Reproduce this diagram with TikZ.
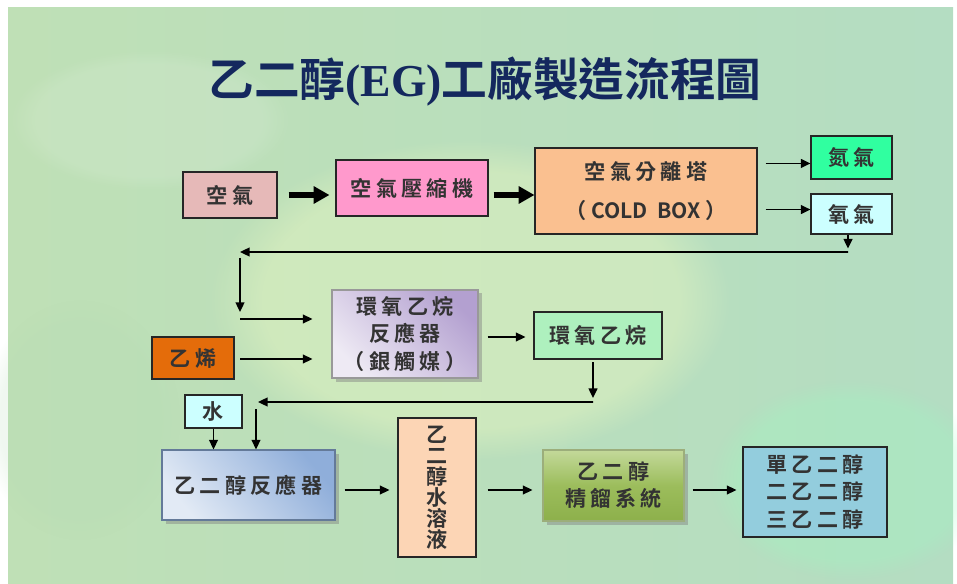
\documentclass[tikz,border=0pt]{standalone}
\usepackage{fontspec}
\usetikzlibrary{arrows.meta,calc,shadows,fadings}
\newfontfamily\cjk[LetterSpace=20]{Noto Sans CJK TC Bold}
\newfontfamily\cjkn{Noto Sans CJK TC Bold}
\newfontfamily\titlelat{Liberation Serif Bold}
\definecolor{txt}{HTML}{333333}
\definecolor{titleblue}{HTML}{14285E}
\definecolor{bgA}{HTML}{BFE0B6}
\definecolor{bgB}{HTML}{B4DDC2}
\definecolor{cAir}{HTML}{E6B9B8}
\definecolor{cComp}{HTML}{FF99CC}
\definecolor{cSep}{HTML}{FAC090}
\definecolor{cN}{HTML}{30FFA0}
\definecolor{cO}{HTML}{CCFFFF}
\definecolor{cEth}{HTML}{E46C0A}
\definecolor{cEO}{HTML}{AEF0BE}
\definecolor{cSol}{HTML}{FCD5B5}
\definecolor{cProd}{HTML}{93CDDD}
\definecolor{eorD}{HTML}{B3A0D0}
\definecolor{eorL}{HTML}{EEEAF4}
\definecolor{egrD}{HTML}{8FAEDA}
\definecolor{egrL}{HTML}{E2EAF5}
\definecolor{distT}{HTML}{C3D99A}
\definecolor{distM}{HTML}{9CBD5C}
\definecolor{distB}{HTML}{8DB04B}
\tikzset{
  sz/.style 2 args={minimum width=#1*0.02cm, minimum height=#2*0.02cm},
  box/.style={draw=black!85, line width=0.6pt, inner sep=0pt, align=center,
    text=txt, font=\cjk\fontsize{12}{15.5}\selectfont},
  gbox/.style={box, draw=#1, drop shadow={opacity=0.45, shadow xshift=0.07cm, shadow yshift=-0.07cm}},
  arr/.style={draw=black, line width=1.1pt, -{Triangle[length=5.5pt,width=5pt]}},
  bigarr/.style={draw=black, line width=3.6pt, -{Triangle[length=9pt,width=9.5pt]}},
}
\begin{document}
\begin{tikzpicture}[x=0.02cm,y=-0.02cm]
\useasboundingbox (0,0) rectangle (957,584);
% background
\shade[left color=bgA, right color=bgB] (8,8) rectangle (953,584);
\fill[yellow!55!green!25, path fading=circle with fuzzy edge 20 percent, opacity=0.5] (470,300) ellipse (260 and 160);
\fill[white, path fading=circle with fuzzy edge 20 percent, opacity=0.12] (150,120) ellipse (140 and 70);
\fill[green!60!cyan!40, path fading=circle with fuzzy edge 20 percent, opacity=0.25] (850,480) ellipse (140 and 100);
\fill[green!50!black!30, path fading=circle with fuzzy edge 20 percent, opacity=0.2] (80,420) ellipse (100 and 120);

% title
\node (title) at (485,82) {\color{titleblue}\cjkn\fontsize{26}{26}\selectfont 乙二醇{\titlelat(EG)}工廠製造流程圖};

% nodes
\node[box, sz={94}{46}, fill=cAir] (air) at (230,195) {空氣};
\node[box, sz={152}{56}, fill=cComp] (comp) at (412,188) {空氣壓縮機};
\node[box, sz={222}{86}, fill=cSep] (sep) at (646,191) {空氣分離塔\\[7pt]{\cjkn （\hspace{3pt}COLD\ \ BOX\hspace{3pt}）}};
\node[box, sz={81}{43}, fill=cN] (n2) at (851.5,157.5) {氮氣};
\node[box, sz={81}{40}, fill=cO] (o2) at (851.5,214) {氧氣};
\node[box, sz={82}{42}, fill=cEth] (eth) at (193,358) {乙烯};
\node[gbox=black!40, sz={146}{88}, top color=eorD, bottom color=eorL, shading angle=-45] (eor) at (405,334) {環氧乙烷\\反應器\\（銀觸媒）};
\node[box, sz={128}{47}, fill=cEO] (eo) at (598,335.5) {環氧乙烷};
\node[box, sz={57}{33}, fill=cO] (water) at (213.5,411.5) {水};
\node[gbox=egrD!70!black, sz={173}{70}, top color=egrD, bottom color=egrL, shading angle=-50] (egr) at (248.5,485) {乙二醇反應器};
\node[box, sz={78}{139}, fill=cSol, font=\cjkn\fontsize{12}{11.9}\selectfont] (sol) at (437,487.5) {乙\\二\\醇\\水\\溶\\液};
\node[gbox=distT!80!black, sz={141}{71}, top color=distT, bottom color=distB, middle color=distM] (dist) at (613.5,485.5) {乙二醇\\精餾系統};
\node[box, sz={144}{90}, fill=cProd] (prod) at (815,492) {單乙二醇\\二乙二醇\\三乙二醇};

% connectors
\draw[bigarr] ($(air.east)+(11,0)$) -- ($(comp.west |- air.east)+(-6,0)$);
\draw[bigarr] ($(comp.east |- air.east)+(5,0)$) -- (sep.west |- air.east);
\draw[arr] ($(sep.north east)+(8,16)$) coordinate (s1) -- (s1 -| n2.west);
\draw[arr] ($(sep.south east)+(8,-25)$) coordinate (s2) -- (s2 -| o2.west);
\coordinate (c1) at ($(o2.south)+(-3.5,0)$);
\draw[arr] (c1) -- ++(0,14);
\coordinate (c3) at (240,252);
\draw[arr] ($(c1)+(0,17.5)$) -- (c3);
\draw[arr] ($(c3)+(0,6)$) -- (240,312);
\coordinate (e1) at (240,319);
\draw[arr] (e1) -- ($(e1 -| eor.west)+(-19,0)$);
\coordinate (e2) at (240,359);
\draw[arr] (e2) -- ($(e2 -| eor.west)+(-19,0)$);
\draw[arr] ($(eor.east)+(9,3)$) coordinate (e3) -- ($(e3 -| eo.west)+(-8,0)$);
\coordinate (d1) at ($(eo.south)+(-5,2.5)$);
\draw[arr] (d1) -- ++(0,36);
\coordinate (d2) at (258,402);
\draw[arr] ($(d1)+(0,40)$) -- (d2);
\coordinate (g1) at (256,409);
\draw[arr] (g1) -- (g1 |- egr.north);
\draw[arr] (water.south) -- (water.south |- egr.north);
\draw[arr] ($(egr.east)+(9,5)$) coordinate (f1) -- ($(f1 -| sol.west)+(-8,0)$);
\draw[arr] ($(sol.east)+(11,2.5)$) coordinate (f2) -- ($(f2 -| dist.west)+(-10,0)$);
\draw[arr] ($(dist.east)+(8,4.5)$) coordinate (f3) -- ($(f3 -| prod.west)+(-6,0)$);
\end{tikzpicture}
\end{document}
